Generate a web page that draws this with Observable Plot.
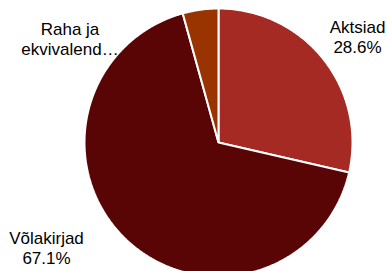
<!DOCTYPE html>
<html>
<head>
<meta charset="utf-8">
<script src="https://cdn.jsdelivr.net/npm/d3@7"></script>
<script src="https://cdn.jsdelivr.net/npm/@observablehq/plot@0.6"></script>
<style>
  html, body { margin: 0; padding: 0; background: #fff; overflow: hidden; }
  svg { display: block; }
</style>
</head>
<body>
<div id="chart"></div>
<script>
// Data
const categories = ["Aktsiad", "Võlakirjad", "Raha ja ekvivalend…"];
const shares = [28.6, 67.1, 4.3];
const labelTexts = ["Aktsiad\n28.6%", "Võlakirjad\n67.1%", "Raha ja\nekvivalend…"];
const colors = ["#A52A24", "#5A0505", "#993300"];

// Layout (pixels)
const W = 387, H = 271;
const cx = 218, cy = 142, R = 134;
const labelOffsets = [[139, -105.5], [-172, 105], [-148.5, -103.5]];

const pie = d3.pie().sort(null).value(d => d.value)(
  categories.map((name, i) => ({name, value: shares[i]}))
);

const points = [];
pie.forEach(p => {
  const name = p.data.name;
  points.push({name, x: 0, y: 0});
  const n = Math.max(2, Math.ceil((p.endAngle - p.startAngle) / (Math.PI / 360)));
  for (let k = 0; k <= n; k++) {
    const a = p.startAngle + (p.endAngle - p.startAngle) * k / n;
    points.push({name, x: R * Math.sin(a), y: -R * Math.cos(a)});
  }
});

const labels = categories.map((name, i) => ({
  name, text: labelTexts[i], x: labelOffsets[i][0], y: labelOffsets[i][1]
}));

const chart = Plot.plot({
  width: W,
  height: H,
  margin: 0,
  x: {domain: [-cx, W - cx], range: [0, W], axis: null},
  y: {domain: [-cy, H - cy], range: [0, H], axis: null},
  color: {domain: categories, range: colors},
  style: {fontFamily: "Arial, 'Liberation Sans', sans-serif", background: "#fff"},
  marks: [
    Plot.line(points, {x: "x", y: "y", z: "name", fill: "name", stroke: "#fff", strokeWidth: 2, curve: "linear-closed", strokeLinejoin: "miter"}),
    Plot.text(labels, {x: "x", y: "y", text: "text", fontSize: 17, lineHeight: 1.18, fill: "#000", textAnchor: "middle", lineAnchor: "middle"})
  ]
});
document.getElementById("chart").appendChild(chart);
</script>
</body>
</html>
